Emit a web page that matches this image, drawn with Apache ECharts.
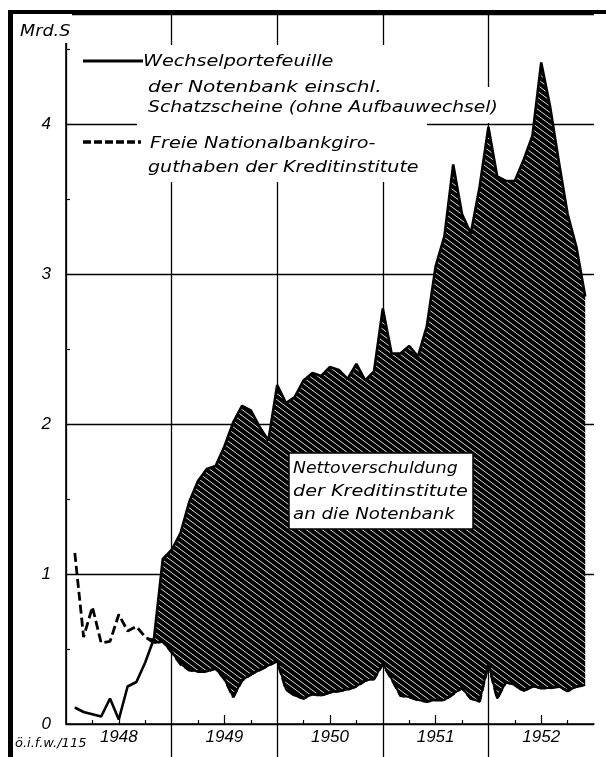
<!DOCTYPE html>
<html><head><meta charset="utf-8">
<script src="https://cdn.jsdelivr.net/npm/echarts@6/dist/echarts.min.js"></script>
<style>html,body{margin:0;padding:0;background:#fff}#c{width:606px;height:757px}</style>
</head><body><div id="c"></div>
<script>
// ---- data (monthly, end of month, Jan 1948 .. Nov 1952), Mrd. S ----
const years = [1948, 1949, 1950, 1951, 1952];
const yTickLabels = ['0', '1', '2', '3', '4'];
// Wechselportefeuille der Notenbank einschl. Schatzscheine (ohne Aufbauwechsel)
const wechsel = [
  0.11, 0.08, 0.065, 0.05, 0.17, 0.03, 0.25, 0.28, 0.41, 0.57, 1.10, 1.16,
  1.27, 1.48, 1.62, 1.70, 1.72, 1.85, 2.01, 2.12, 2.09, 1.98, 1.89, 2.26,
  2.14, 2.18, 2.29, 2.34, 2.32, 2.38, 2.36, 2.30, 2.40, 2.29, 2.35, 2.77,
  2.47, 2.47, 2.52, 2.45, 2.65, 3.05, 3.25, 3.73, 3.40, 3.27, 3.58, 3.98,
  3.65, 3.62, 3.62, 3.76, 3.92, 4.41, 4.12, 3.75, 3.40, 3.18, 2.85
];
// Freie Nationalbankgiroguthaben der Kreditinstitute
const giro = [
  1.14, 0.58, 0.78, 0.54, 0.55, 0.73, 0.62, 0.65, 0.58, 0.54, 0.55, 0.48,
  0.40, 0.36, 0.35, 0.35, 0.37, 0.30, 0.18, 0.29, 0.33, 0.36, 0.39, 0.42,
  0.23, 0.19, 0.17, 0.20, 0.19, 0.21, 0.22, 0.23, 0.25, 0.29, 0.30, 0.40,
  0.30, 0.19, 0.18, 0.16, 0.15, 0.16, 0.16, 0.20, 0.24, 0.17, 0.15, 0.40,
  0.17, 0.28, 0.26, 0.22, 0.25, 0.24, 0.24, 0.25, 0.22, 0.25, 0.26
];

// month-end categories: Dec 1947 .. Dec 1952 (61 positions on the axis)
const monthCats = ['1947-12'];
years.forEach(y => { for (let m = 1; m <= 12; m++) monthCats.push(y + '-' + (m < 10 ? '0' + m : m)); });
const pad = arr => [null].concat(arr, new Array(monthCats.length - 1 - arr.length).fill(null));
const net = wechsel.map((w, i) => Math.max(0, w - giro[i]));
const edge = giro.map((g, i) => (net[i] > 0 ? g : null));

const yearBounds = years.slice(1).map((_, i) => 12 * (i + 1));
const yearMids = years.map((_, i) => 12 * i + 6);
const quarterTicks = [];
years.forEach((_, i) => { quarterTicks.push(12 * i + 3, 12 * i + 9); });

// hatch pattern (dark, thin white diagonals)
const pat = document.createElement('canvas');
pat.width = 8; pat.height = 6;
const pc = pat.getContext('2d');
pc.fillStyle = '#000'; pc.fillRect(0, 0, 8, 6);
pc.strokeStyle = '#fff'; pc.lineWidth = 0.85;
[-8, 0, 8].forEach(o => { pc.beginPath(); pc.moveTo(o - 8, -6); pc.lineTo(o + 16, 12); pc.stroke(); });

const chart = echarts.init(document.getElementById('c'), null, {renderer: 'canvas'});
const F = '"DejaVu Sans"';
const txt = (text, x, y, size, sx, z) => ({
  type: 'text', x: x, y: y, scaleX: sx, z: z || 20,
  style: {text: text, fill: '#000', font: 'italic ' + size + 'px ' + F, align: 'left', verticalAlign: 'middle'}
});
const lab = {color: '#000', fontStyle: 'italic', fontFamily: 'Liberation Sans', fontSize: 17};

chart.setOption({
  animation: false,
  backgroundColor: '#fff',
  grid: {left: 66, right: 12, top: 14, bottom: 33},
  xAxis: [
    {type: 'category', data: monthCats, boundaryGap: false, show: false},
    {type: 'value', min: 0, max: 60, position: 'bottom',
     axisLine: {show: true, lineStyle: {color: '#000', width: 1.5}},
     axisTick: {show: true, customValues: yearBounds, length: 33, lineStyle: {color: '#000', width: 1.3}},
     splitLine: {show: true, lineStyle: {color: '#000', width: 1.3}},
     axisLabel: Object.assign({show: true, customValues: yearMids, margin: 5,
       formatter: v => String(years[Math.round((v - 6) / 12)])}, lab)},
    {type: 'value', min: 0, max: 60, position: 'bottom',
     axisLine: {show: false}, splitLine: {show: false}, axisLabel: {show: false},
     axisTick: {show: true, inside: true, customValues: quarterTicks, length: 4, lineStyle: {color: '#000', width: 1.2}}},
    {type: 'value', min: 0, max: 60, position: 'bottom',
     axisLine: {show: false}, splitLine: {show: false}, axisLabel: {show: false},
     axisTick: {show: true, inside: true, customValues: yearMids, length: 9, lineStyle: {color: '#000', width: 1.2}}}
  ],
  yAxis: [
    {type: 'value', min: 0, max: 4.733, interval: 1,
     axisLine: {show: true, lineStyle: {color: '#000', width: 1.6}},
     axisTick: {show: true, inside: true, length: 4, lineStyle: {color: '#000'}},
     minorTick: {show: true, splitNumber: 2, length: 4, lineStyle: {color: '#000', width: 1.2}},
     splitLine: {show: true, lineStyle: {color: '#000', width: 1.3}},
     axisLabel: Object.assign({margin: 15, formatter: v => (Number.isInteger(v) ? yTickLabels[v] : '')}, lab)},
    {type: 'value', min: 0, max: 4.733, position: 'right',
     axisLine: {show: true, lineStyle: {color: '#000', width: 1.3}},
     axisTick: {show: false}, axisLabel: {show: false}, splitLine: {show: false}}
  ],
  series: [
    {name: 'base', type: 'line', stack: 'n', data: pad(giro), symbol: 'none', silent: true,
     lineStyle: {opacity: 0}, z: 2},
    {name: 'Nettoverschuldung', type: 'line', stack: 'n', data: pad(net), symbol: 'none', silent: true,
     lineStyle: {opacity: 0}, areaStyle: {color: {image: pat, repeat: 'repeat'}, opacity: 1}, z: 2},
    {name: 'edge', type: 'line', data: pad(edge), symbol: 'none',
     lineStyle: {color: '#000', width: 2}, z: 3},
    {name: 'Wechselportefeuille', type: 'line', data: pad(wechsel), symbol: 'none',
     lineStyle: {color: '#000', width: 2.6}, z: 4},
    {name: 'Freie Nationalbankgiroguthaben', type: 'line', data: pad(giro), symbol: 'none',
     lineStyle: {color: '#000', width: 2.8, type: [9, 4]}, z: 4}
  ],
  graphic: [
    {type: 'rect', z: 30, shape: {x: 8, y: 10, width: 598, height: 4}, style: {fill: '#000'}},
    {type: 'rect', z: 30, shape: {x: 8, y: 10, width: 5, height: 747}, style: {fill: '#000'}},
    {type: 'rect', z: 5, shape: {x: 137, y: 45, width: 290, height: 137}, style: {fill: '#fff'}},
    {type: 'rect', z: 5, shape: {x: 137, y: 87, width: 363, height: 36}, style: {fill: '#fff'}},
    {type: 'rect', z: 5, shape: {x: 60, y: 14, width: 12, height: 29}, style: {fill: '#fff'}},
    {type: 'line', z: 20, shape: {x1: 83, y1: 61, x2: 143, y2: 61}, style: {stroke: '#000', lineWidth: 3}},
    {type: 'line', z: 20, shape: {x1: 83, y1: 142, x2: 141, y2: 142}, style: {stroke: '#000', lineWidth: 3.5, lineDash: [8, 3]}},
    txt('Wechselportefeuille', 143, 62, 16, 1.2),
    txt('der Notenbank einschl.', 148, 88, 16, 1.26),
    txt('Schatzscheine (ohne Aufbauwechsel)', 148, 108, 16, 1.17),
    txt('Freie Nationalbankgiro-', 150, 144, 16, 1.2),
    txt('guthaben der Kreditinstitute', 148, 168, 16, 1.19),
    {type: 'rect', z: 20, shape: {x: 289, y: 453, width: 184, height: 76}, style: {fill: '#fff', stroke: '#000', lineWidth: 1.5}},
    txt('Nettoverschuldung', 293, 469, 16, 1.08, 21),
    txt('der Kreditinstitute', 293, 492, 16, 1.2, 21),
    txt('an die Notenbank', 293, 515, 16, 1.14, 21),
    txt('Mrd.S', 20, 32, 16, 1.1),
    txt('ö.i.f.w./115', 15, 744, 13, 1.0)
  ]
});
</script>
</body></html>
